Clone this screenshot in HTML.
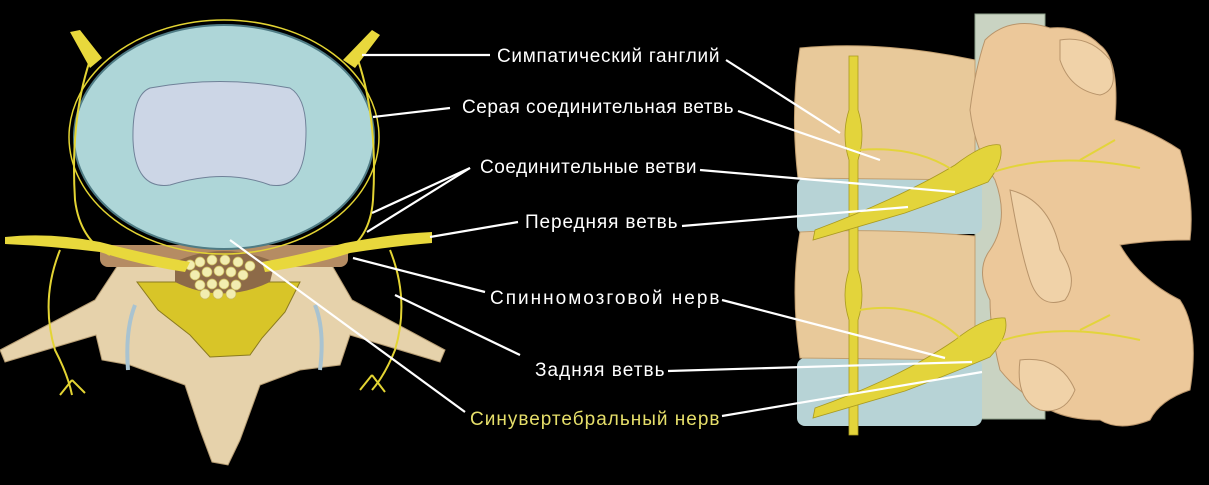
<!DOCTYPE html>
<html><head><meta charset="utf-8"><style>
html,body{margin:0;padding:0;background:#000;width:1209px;height:485px;overflow:hidden}
svg{display:block}
text{font-family:"Liberation Sans",sans-serif;font-size:19px;letter-spacing:0.5px;fill:#fff}
</style></head><body>
<svg width="1209" height="485" viewBox="0 0 1209 485">
<!-- LEFT: vertebra below -->
<path d="M0,350 L95,300 L120,262 L330,262 L352,300 L445,350 L440,362 L350,335 L340,365 L300,370 L260,385 L240,440 L228,465 L212,462 L200,430 L185,385 L130,365 L102,360 L96,335 L5,362 Z" fill="#e6d2ab" stroke="#b79e74" stroke-width="1"/>
<path d="M135,305 Q125,330 128,370 M315,305 Q325,330 320,370" stroke="#a9c3d0" stroke-width="4" fill="none"/>
<rect x="100" y="245" width="248" height="22" rx="8" fill="#b58c63"/>
<path d="M137,282 L300,282 L285,312 L262,338 L250,355 L210,357 L190,335 L158,310 Z" fill="#d8c528" stroke="#8a7a20"/>
<path d="M175,262 Q222,240 275,262 L270,282 Q222,305 175,282 Z" fill="#8d6a48"/>
<g fill="#f2edb0" stroke="#c9b95a" stroke-width="0.7">
<circle cx="190" cy="265" r="5"/><circle cx="200" cy="262" r="5"/><circle cx="212" cy="260" r="5"/><circle cx="225" cy="260" r="5"/><circle cx="238" cy="262" r="5"/><circle cx="250" cy="266" r="5"/>
<circle cx="195" cy="275" r="5"/><circle cx="207" cy="272" r="5"/><circle cx="219" cy="271" r="5"/><circle cx="231" cy="272" r="5"/><circle cx="243" cy="275" r="5"/>
<circle cx="200" cy="285" r="5"/><circle cx="212" cy="284" r="5"/><circle cx="224" cy="284" r="5"/><circle cx="236" cy="285" r="5"/><circle cx="205" cy="294" r="5"/><circle cx="218" cy="294" r="5"/><circle cx="231" cy="294" r="5"/>
</g>
<!-- disc -->
<ellipse cx="224" cy="137" rx="150" ry="112" fill="#aed6d8" stroke="#4f7b84" stroke-width="2"/>
<path d="M150,88 Q220,75 290,88 Q310,100 305,150 Q300,190 270,185 Q225,168 170,185 Q135,190 133,140 Q132,95 150,88 Z" fill="#ccd6e6" stroke="#6f8198"/>
<!-- nerves left -->
<g stroke="#e3d433" fill="none" stroke-width="2">
<ellipse cx="224" cy="137" rx="155" ry="117" stroke-width="1.5"/>
<path d="M90,60 Q70,120 75,200 Q80,240 110,255 M358,60 Q378,120 373,200 Q370,240 340,255"/>
<path d="M60,250 Q40,300 55,350 Q68,375 72,395 M390,250 Q410,300 395,350 Q385,375 372,390"/>
<path d="M72,380 L60,395 M72,380 L85,393 M372,375 L360,390 M372,375 L385,392"/>
</g>
<path d="M5,237 Q50,232 100,242 Q150,255 190,262 L185,272 Q140,265 100,252 Q50,246 5,244 Z" fill="#e8d83c"/>
<path d="M432,232 Q390,234 345,243 Q300,255 262,262 L265,272 Q310,266 350,253 Q395,246 432,243 Z" fill="#e8d83c"/>
<path d="M70,32 L80,30 L102,58 L90,68 Z M372,30 L380,35 L355,68 L343,60 Z" fill="#e8d83c"/>
<!-- RIGHT -->
<rect x="975" y="14" width="70" height="405" fill="#c9d3c2" stroke="#8ea08a"/>
<rect x="797" y="178" width="185" height="56" rx="8" fill="#b7d3d6"/>
<rect x="797" y="358" width="185" height="68" rx="8" fill="#b7d3d6"/>
<path d="M800,48 Q880,40 975,60 L975,180 L798,178 Q790,110 800,48 Z" fill="#e8c99a" stroke="#c3a070"/>
<path d="M800,232 Q880,228 975,236 L975,360 L800,358 Q790,290 800,232 Z" fill="#e8c99a" stroke="#c3a070"/>
<path d="M985,40 Q1010,15 1050,28 Q1080,25 1100,45 Q1120,60 1115,120 Q1150,130 1180,150 Q1195,200 1190,240 Q1150,240 1120,245 Q1140,280 1180,300 Q1200,330 1190,390 Q1160,400 1150,420 Q1120,432 1100,420 Q1070,420 1050,410 Q1020,395 1000,370 Q990,330 990,300 Q975,270 990,250 Q1010,220 995,180 Q975,150 970,110 Q975,70 985,40 Z" fill="#ecc89a" stroke="#b8946a"/>
<path d="M1060,40 Q1090,35 1110,60 Q1120,90 1100,95 Q1070,90 1060,60 Z" fill="#f0d2a8" stroke="#b8946a"/>
<path d="M1010,190 Q1050,200 1060,250 Q1080,280 1065,300 Q1040,310 1030,280 Q1020,250 1010,190 Z" fill="#f0d2a8" stroke="#b8946a"/>
<path d="M1020,360 Q1060,355 1075,390 Q1065,415 1040,410 Q1015,400 1020,360 Z" fill="#f0d2a8" stroke="#b8946a"/>
<g fill="#e3d43b" stroke="#a99a20" stroke-width="0.8">
<path d="M849,56 L858,56 L858,110 Q866,135 858,160 L858,270 Q866,295 858,320 L858,435 L849,435 L849,320 Q841,295 849,270 L849,160 Q841,135 849,110 Z"/>
<path d="M813,240 L815,230 Q900,198 955,165 Q985,142 1000,145 Q1005,160 988,182 Q950,197 905,213 Z"/>
<path d="M813,418 L815,408 Q900,378 955,340 Q985,316 1005,318 Q1010,335 990,357 Q950,374 905,391 Z"/>
</g>
<g stroke="#e3d43b" fill="none" stroke-width="2">
<path d="M860,150 Q920,145 960,175 M860,310 Q920,300 960,338 M985,175 Q1050,150 1140,168 M1080,160 L1115,140 M990,345 Q1050,320 1140,340 M1080,330 L1110,315"/>
</g>
<!-- leader lines -->
<g stroke="#fff" stroke-width="2.2">
<line x1="362" y1="55" x2="490" y2="55"/>
<line x1="373" y1="117" x2="450" y2="108"/>
<line x1="470" y1="168" x2="372" y2="213"/><line x1="470" y1="168" x2="367" y2="232"/>
<line x1="430" y1="237" x2="518" y2="222"/>
<line x1="353" y1="258" x2="485" y2="292"/>
<line x1="395" y1="295" x2="520" y2="355"/>
<line x1="230" y1="240" x2="465" y2="412"/>
<line x1="726" y1="60" x2="840" y2="133"/>
<line x1="738" y1="111" x2="880" y2="160"/>
<line x1="700" y1="170" x2="955" y2="192"/>
<line x1="682" y1="226" x2="908" y2="207"/>
<line x1="722" y1="300" x2="945" y2="358"/>
<line x1="668" y1="371" x2="972" y2="362"/>
<line x1="722" y1="416" x2="982" y2="372"/>
</g>
<text x="497" y="62" textLength="223">Симпатический ганглий</text>
<text x="462" y="113" textLength="272">Серая соединительная ветвь</text>
<text x="480" y="173" textLength="217">Соединительные ветви</text>
<text x="525" y="228" textLength="153">Передняя ветвь</text>
<text x="490" y="304" textLength="230">Спинномозговой нерв</text>
<text x="535" y="376" textLength="130">Задняя ветвь</text>
<text x="470" y="425" textLength="250" style="fill:#e6df6a">Синувертебральный нерв</text>
</svg>
</body></html>
